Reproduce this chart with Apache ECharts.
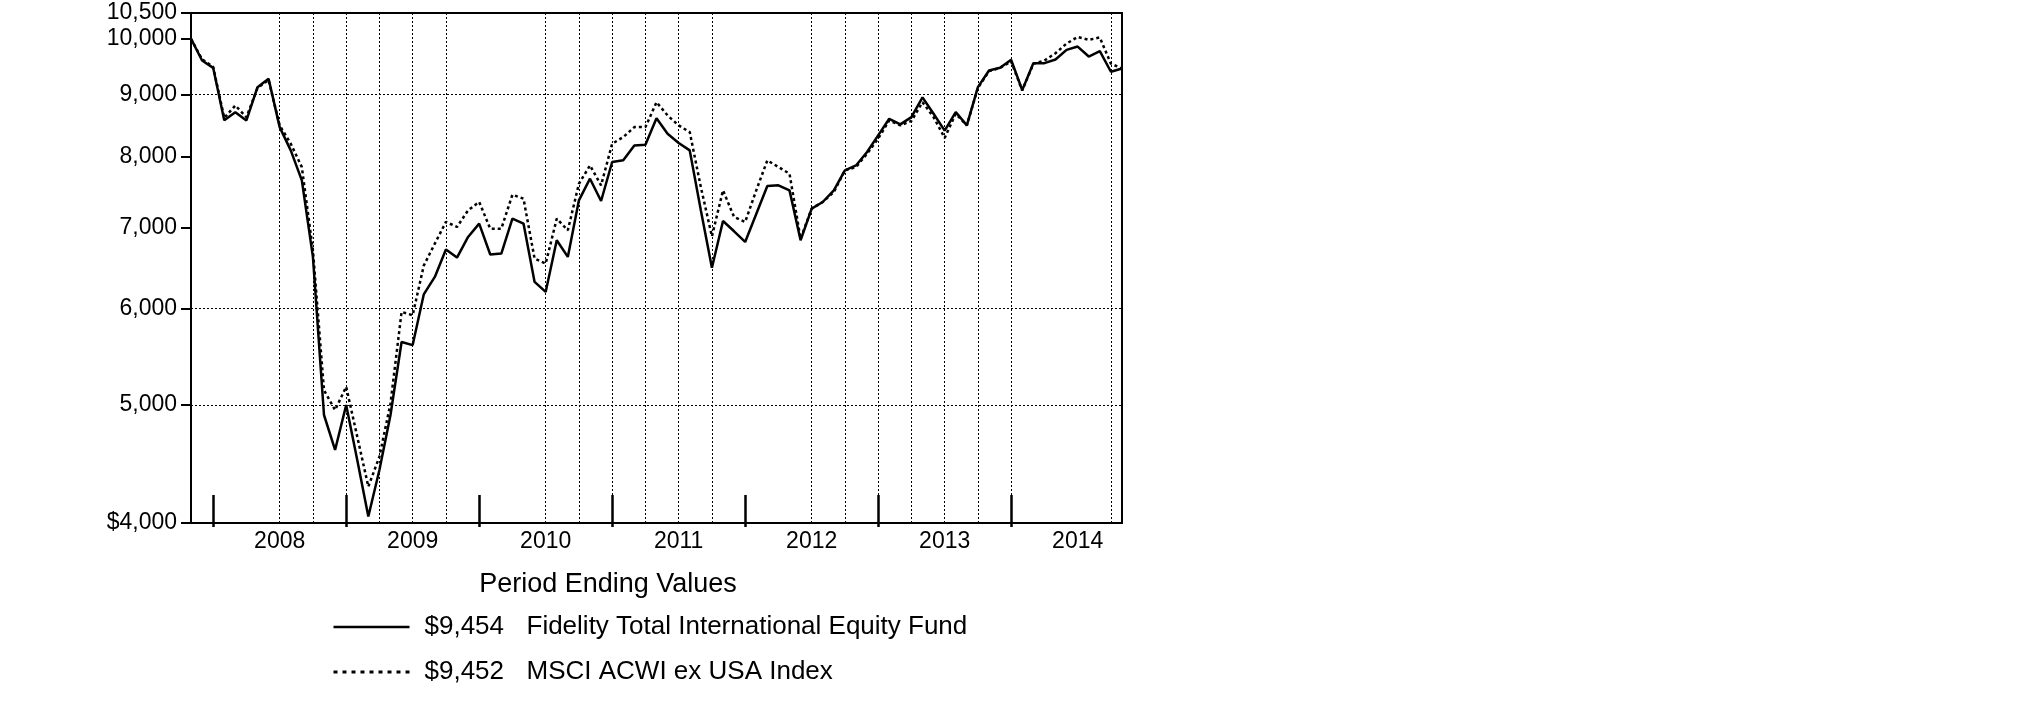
<!DOCTYPE html>
<html>
<head>
<meta charset="utf-8">
<script src="https://cdn.jsdelivr.net/npm/echarts@6/dist/echarts.min.js"></script>
<style>
html,body{margin:0;padding:0;background:#fff;}
#chart{width:2025px;height:717px;}
</style>
</head>
<body>
<div id="chart"></div>
<script>
// Monthly values, Oct 31 2007 (index 0) .. Oct 31 2014 (index 84)
const fundValues = [
  10000, 9597, 9465, 8570, 8704, 8568, 9125, 9270, 8461, 8096,
  7650, 6619, 4907, 4593, 5000, 4506, 4049, 4422, 4907, 5634,
  5601, 6165, 6372, 6711, 6610, 6873, 7049, 6648, 6660, 7115,
  7049, 6312, 6194, 6830, 6618, 7366, 7674, 7357, 7920, 7945,
  8172, 8182, 8605, 8356, 8210, 8096, 7228, 6484, 7083, 6947,
  6808, 7178, 7569, 7578, 7506, 6830, 7251, 7343, 7506, 7796,
  7869, 8071, 8329, 8595, 8504, 8622, 8950, 8677, 8405, 8705,
  8488, 9125, 9418, 9465, 9610, 9074, 9549, 9549, 9615, 9793,
  9854, 9670, 9768, 9395, 9454
];
const indexValues = [
  10000, 9620, 9480, 8610, 8815, 8620, 9110, 9250, 8488, 8199,
  7844, 6702, 5143, 4953, 5176, 4710, 4285, 4535, 5016, 5964,
  5927, 6510, 6787, 7071, 7004, 7228, 7343, 6982, 6982, 7445,
  7389, 6597, 6535, 7115, 6960, 7601, 7869, 7578, 8199, 8303,
  8461, 8461, 8870, 8650, 8488, 8381, 7554, 6880, 7506, 7138,
  7071, 7506, 7945, 7845, 7747, 6851, 7251, 7343, 7482, 7796,
  7845, 8046, 8279, 8568, 8488, 8560, 8870, 8622, 8290, 8677,
  8488, 9113, 9406, 9465, 9580, 9068, 9537, 9597, 9731, 9910,
  10035, 9980, 10025, 9540, 9452
];
const seriesNames = ['Fidelity Total International Equity Fund', 'MSCI ACWI ex USA Index'];
const endingValueLabels = ['$9,454', '$9,452'];
const titleText = 'Period Ending Values';

const yTicks = [4000, 5000, 6000, 7000, 8000, 9000, 10000, 10500];
const yTickLabels = ['$4,000', '5,000', '6,000', '7,000', '8,000', '9,000', '10,000', '10,500'];
const yGridValues = [5000, 6000, 9000];

const yearTickMonths = [2, 14, 26, 38, 50, 62, 74];
const yearLabelMonths = [8, 20, 32, 44, 56, 68, 80];
const yearLabels = ['2008', '2009', '2010', '2011', '2012', '2013', '2014'];
const xGridMonths = [8, 11, 14, 17, 20, 23, 32, 35, 38, 41, 44, 47, 56, 59, 62, 65, 68, 71, 74, 83];

const FONT = '"Liberation Sans", Arial, Helvetica, sans-serif';
const chart = echarts.init(document.getElementById('chart'), null, {renderer: 'canvas'});

function nearestLabel(v, ticks, labels) {
  let best = 0, bd = Infinity;
  ticks.forEach((t, i) => { const d = Math.abs(t - v); if (d < bd) { bd = d; best = i; } });
  return labels[best];
}

const dotted = {type: [2, 2], color: '#000', width: 1};
const transparentItem = {color: 'rgba(0,0,0,0)', borderColor: 'rgba(0,0,0,0)', borderWidth: 0};

chart.setOption({
  animation: false,
  backgroundColor: '#fff',
  title: {
    text: titleText,
    left: 603, top: 566, textAlign: 'center',
    textStyle: {fontFamily: FONT, fontSize: 27, fontWeight: 'normal', color: '#000', lineHeight: 28}
  },
  legend: {
    orient: 'vertical',
    left: 327, top: 607,
    itemWidth: 76, itemHeight: 14, itemGap: 15,
    selectedMode: false,
    itemStyle: transparentItem,
    data: [
      {name: seriesNames[0], itemStyle: transparentItem, lineStyle: {color: '#000', width: 2.5, type: 'solid'}},
      {name: seriesNames[1], itemStyle: transparentItem, lineStyle: {color: '#000', width: 3, type: [4, 5]}}
    ],
    formatter: function (name) {
      const i = seriesNames.indexOf(name);
      return '{v|' + endingValueLabels[i] + '}{n|' + name + '}';
    },
    textStyle: {
      fontFamily: FONT, fontSize: 26, color: '#000', lineHeight: 30,
      rich: {
        v: {fontFamily: FONT, fontSize: 26, color: '#000', width: 102, padding: [0, 0, 0, 10]},
        n: {fontFamily: FONT, fontSize: 26, color: '#000'}
      }
    }
  },
  grid: {left: 191, top: 13, right: 903, bottom: 194, show: false},
  xAxis: [
    {
      type: 'value', min: 0, max: 84, position: 'bottom',
      axisLine: {show: true, onZero: false, lineStyle: {color: '#000', width: 2}},
      axisTick: {show: true, inside: true, length: 28, customValues: yearTickMonths, lineStyle: {color: '#000', width: 2.5}},
      axisLabel: {show: true, customValues: yearLabelMonths, margin: 7,
        fontFamily: FONT, fontSize: 23, color: '#000',
        formatter: v => nearestLabel(v, yearLabelMonths, yearLabels)},
      splitLine: {show: false}
    },
    {
      type: 'value', min: 0, max: 84, position: 'top',
      axisLine: {show: true, onZero: false, lineStyle: {color: '#000', width: 2}},
      axisTick: {show: false, customValues: xGridMonths},
      axisLabel: {show: false, customValues: xGridMonths},
      splitLine: {show: true, customValues: xGridMonths, lineStyle: dotted}
    },
    {
      type: 'value', min: 0, max: 84, position: 'bottom', offset: 0,
      axisLine: {show: false, onZero: false},
      axisTick: {show: true, inside: false, length: 4, customValues: yearTickMonths, lineStyle: {color: '#000', width: 2.5}},
      axisLabel: {show: false, customValues: yearTickMonths},
      splitLine: {show: false}
    }
  ],
  yAxis: [
    {
      type: 'log', logBase: 10, min: 4000, max: 10500, position: 'left',
      axisLine: {show: true, onZero: false, lineStyle: {color: '#000', width: 2}},
      axisTick: {show: true, inside: false, length: 10, customValues: yTicks, lineStyle: {color: '#000', width: 2}},
      axisLabel: {show: true, customValues: yTicks, margin: 14,
        fontFamily: FONT, fontSize: 23, color: '#000',
        formatter: v => nearestLabel(v, yTicks, yTickLabels)},
      splitLine: {show: false}
    },
    {
      type: 'log', logBase: 10, min: 4000, max: 10500, position: 'right',
      axisLine: {show: true, onZero: false, lineStyle: {color: '#000', width: 2}},
      axisTick: {show: false, customValues: yGridValues},
      axisLabel: {show: false, customValues: yGridValues},
      splitLine: {show: true, customValues: yGridValues, lineStyle: dotted}
    }
  ],
  series: [
    {
      name: seriesNames[0], type: 'line', xAxisIndex: 0, yAxisIndex: 0,
      showSymbol: false, symbol: 'none', z: 3,
      lineStyle: {color: '#000', width: 2.5, type: 'solid'},
      itemStyle: {color: '#000'},
      data: fundValues.map((v, i) => [i, v])
    },
    {
      name: seriesNames[1], type: 'line', xAxisIndex: 0, yAxisIndex: 0,
      showSymbol: false, symbol: 'none', z: 2,
      lineStyle: {color: '#000', width: 2.5, type: [3, 3]},
      itemStyle: {color: '#000'},
      data: indexValues.map((v, i) => [i, v])
    }
  ]
});
</script>
</body>
</html>
